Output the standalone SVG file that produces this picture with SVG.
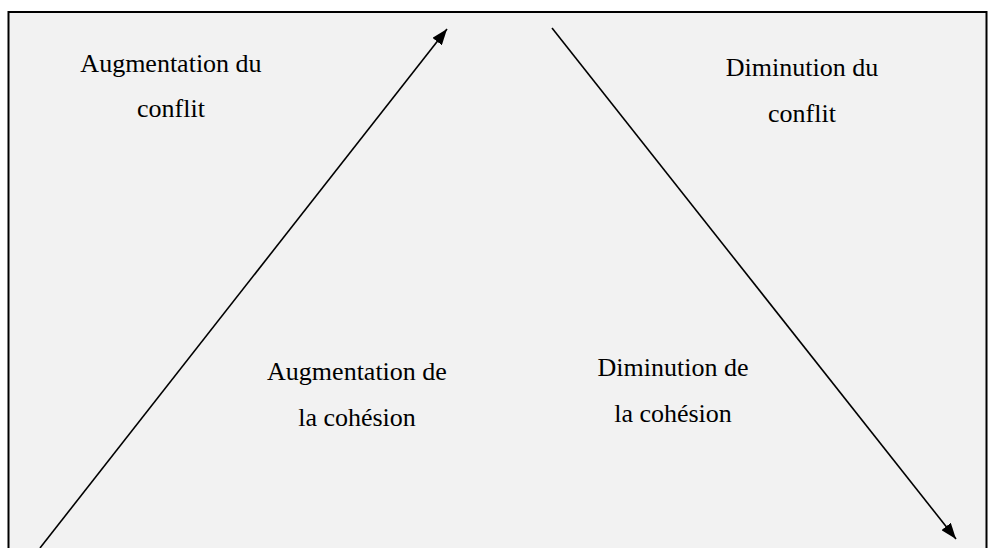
<svg xmlns="http://www.w3.org/2000/svg" width="988" height="548" viewBox="0 0 988 548">
  <defs>
    <style>
      .lbl { font-family: 'Liberation Serif', 'Times New Roman', Times, 'DejaVu Serif', serif; font-size: 26px; fill: #000; text-anchor: middle; }
      .conn { stroke: #000; stroke-width: 1.6; fill: none; }
    </style>
    <marker id="ah" viewBox="0 0 16 12" refX="16" refY="6" markerWidth="16" markerHeight="12" markerUnits="userSpaceOnUse" orient="auto">
      <path d="M0,0 L16,6 L0,12 Z" fill="#000"/>
    </marker>
  </defs>
  <rect x="0" y="0" width="988" height="548" fill="#ffffff"/>
  <rect id="frame" x="8.5" y="12" width="978" height="545" fill="#f2f2f2" stroke="#000" stroke-width="2"/>
  <g id="connectors">
    <line class="conn" x1="40" y1="548" x2="447" y2="29" marker-end="url(#ah)"/>
    <line class="conn" x1="552" y1="28" x2="956" y2="539" marker-end="url(#ah)"/>
  </g>
  <g id="augmentation-conflit">
    <text class="lbl" font-family="Liberation Serif, serif" x="171" y="72">Augmentation du</text>
    <text class="lbl" font-family="Liberation Serif, serif" x="171" y="117">conflit</text>
  </g>
  <g id="diminution-conflit">
    <text class="lbl" font-family="Liberation Serif, serif" x="802" y="76">Diminution du</text>
    <text class="lbl" font-family="Liberation Serif, serif" x="802" y="122">conflit</text>
  </g>
  <g id="augmentation-cohesion">
    <text class="lbl" font-family="Liberation Serif, serif" x="357" y="380">Augmentation de</text>
    <text class="lbl" font-family="Liberation Serif, serif" x="357" y="426">la cohésion</text>
  </g>
  <g id="diminution-cohesion">
    <text class="lbl" font-family="Liberation Serif, serif" x="673" y="376">Diminution de</text>
    <text class="lbl" font-family="Liberation Serif, serif" x="673" y="422">la cohésion</text>
  </g>
</svg>
